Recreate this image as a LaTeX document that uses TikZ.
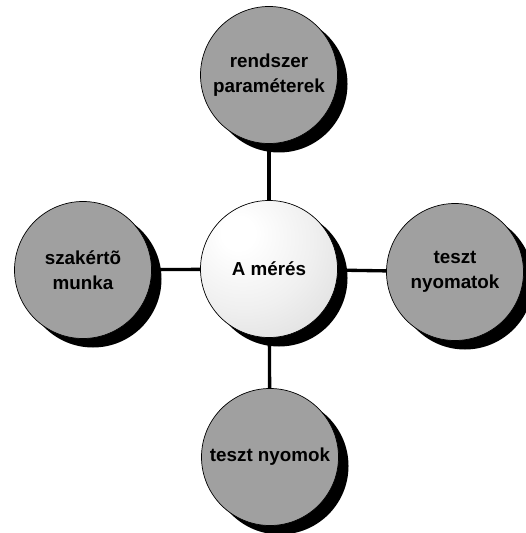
\documentclass[tikz,border=0pt]{standalone}
\usepackage{fontspec}
\setmainfont{Liberation Sans}
\usetikzlibrary{shadows,backgrounds}
\definecolor{ballgray}{RGB}{160,160,160}
\pgfdeclareradialshading{meresball}{\pgfpoint{-12bp}{14bp}}{color(0bp)=(white); color(6bp)=(white); color(25bp)=(gray!12); color(50bp)=(gray!32); color(65bp)=(gray!38); color(100bp)=(gray!38)}

\begin{document}
\begin{tikzpicture}[
    ball/.style={circle,draw,thin,minimum size=2.74cm,inner sep=0pt,align=center,
      font=\bfseries\fontsize{10.7}{14}\selectfont,
      drop shadow={shadow xshift=0.2cm,shadow yshift=-0.18cm,fill=black,opacity=1}},
    link/.style={line width=1.9pt}]
\useasboundingbox (0,0) rectangle (10.5,-10.66);
\node[ball,shading=meresball] (meres) at (5.38,-5.38) {A mérés};
\foreach \x/\y/\n/\t in {5.38/-1.50/rendszer/rendszer\\paraméterek, 1.66/-5.40/szakerto/szakértõ\\munka, 9.10/-5.44/teszt/teszt\\nyomatok, 5.40/-9.14/nyomok/teszt nyomok}
    \node[ball,fill=ballgray] (\n) at (\x,\y) {\t};
\begin{scope}[on background layer]
\foreach \t in {rendszer, szakerto, teszt, nyomok}
    \draw[link] (meres.center) -- (\t.center);
\end{scope}
\end{tikzpicture}
\end{document}
